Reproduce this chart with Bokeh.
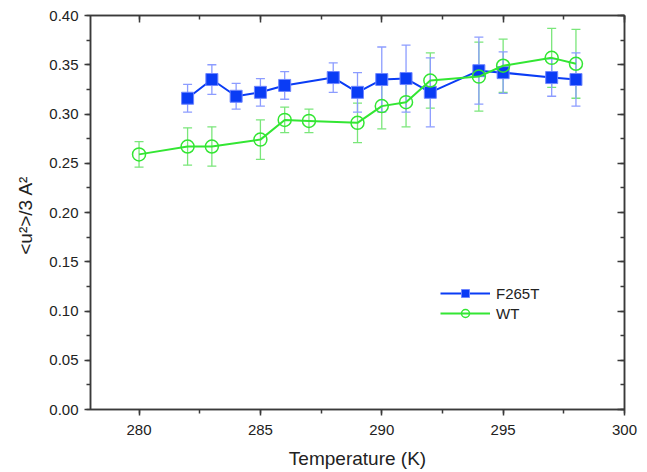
from bokeh.plotting import figure
from bokeh.models import (ColumnDataSource, Whisker, TeeHead, LinearAxis, Range1d,
                          SingleIntervalTicker, Legend, LegendItem, CustomJSTickFormatter,
                          NumeralTickFormatter)
from bokeh.embed import file_html
from bokeh.resources import INLINE

# ---- data ----
t_f265t = [282, 283, 284, 285, 286, 288, 289, 290, 291, 292, 294, 295, 297, 298]
u_f265t = [0.316, 0.335, 0.318, 0.322, 0.329, 0.337, 0.322, 0.335, 0.336, 0.322, 0.344, 0.342, 0.337, 0.335]
e_f265t = [0.014, 0.015, 0.013, 0.014, 0.014, 0.015, 0.020, 0.033, 0.034, 0.035, 0.034, 0.021, 0.019, 0.027]

t_wt = [280, 282, 283, 285, 286, 287, 289, 290, 291, 292, 294, 295, 297, 298]
u_wt = [0.259, 0.267, 0.267, 0.274, 0.294, 0.293, 0.291, 0.308, 0.312, 0.334, 0.338, 0.349, 0.357, 0.351]
e_wt = [0.013, 0.019, 0.020, 0.020, 0.013, 0.012, 0.020, 0.023, 0.025, 0.028, 0.035, 0.027, 0.030, 0.035]

x_label = "Temperature (K)"
y_label = "<u\u00b2>/3  A\u00b2"

BLUE = "#0a3cf5"
BLUE_ERR = "#8c9cff"
GREEN = "#33e633"
GREEN_ERR = "#7ae67a"
FONT = "Liberation Sans"
AXIS_COLOR = "#3a3a3a"

def src(t, u, e):
    return ColumnDataSource(dict(x=t, y=u,
                                 lo=[a - b for a, b in zip(u, e)],
                                 hi=[a + b for a, b in zip(u, e)]))

s_b = src(t_f265t, u_f265t, e_f265t)
s_g = src(t_wt, u_wt, e_wt)

p = figure(width=647, height=472, output_backend="svg", toolbar_location=None,
           x_range=Range1d(278, 300), y_range=Range1d(0, 0.40),
           x_axis_location=None, y_axis_location=None,
           min_border_left=90, min_border_right=23, min_border_top=15, min_border_bottom=63)
p.grid.visible = False
p.outline_line_color = AXIS_COLOR
p.outline_line_width = 1.5
p.background_fill_color = "white"
p.border_fill_color = "white"

def style_axis(ax, labels=True, inward=False):
    ax.axis_line_color = AXIS_COLOR
    ax.axis_line_width = 1.5
    ax.major_tick_line_color = AXIS_COLOR
    ax.minor_tick_line_color = AXIS_COLOR
    ax.major_tick_line_width = 1.5
    ax.minor_tick_line_width = 1.5
    if inward:
        ax.major_tick_in, ax.major_tick_out = 7, 0
        ax.minor_tick_in, ax.minor_tick_out = 4, 0
    else:
        ax.major_tick_in, ax.major_tick_out = 0, 6
        ax.minor_tick_in, ax.minor_tick_out = 0, 4
    ax.major_label_text_font = FONT
    ax.major_label_text_font_size = "15px"
    ax.major_label_text_color = "#222222"
    ax.axis_label_text_font = FONT
    ax.axis_label_text_font_style = "normal"
    ax.axis_label_text_font_size = "19px"
    ax.axis_label_text_color = "#222222"
    if not labels:
        ax.formatter = CustomJSTickFormatter(code="return ''")
        ax.major_label_standoff = 0
        ax.major_label_text_font_size = "1px"

xb = LinearAxis(ticker=SingleIntervalTicker(interval=5, num_minor_ticks=2), axis_label=x_label)
style_axis(xb)
xb.major_label_standoff = 9
xb.axis_label_standoff = 10
p.add_layout(xb, "below")

yl = LinearAxis(ticker=SingleIntervalTicker(interval=0.05, num_minor_ticks=2), axis_label=y_label)
style_axis(yl)
yl.formatter = NumeralTickFormatter(format="0.00")
yl.major_label_standoff = 6
yl.axis_label_standoff = 10
p.add_layout(yl, "left")

xt = LinearAxis(ticker=SingleIntervalTicker(interval=5, num_minor_ticks=2))
style_axis(xt, labels=False, inward=True)
p.add_layout(xt, "above")

yr = LinearAxis(ticker=SingleIntervalTicker(interval=0.05, num_minor_ticks=2))
style_axis(yr, labels=False, inward=True)
p.add_layout(yr, "right")

# error bars
for s, c in ((s_g, GREEN_ERR), (s_b, BLUE_ERR)):
    w = Whisker(source=s, base="x", lower="lo", upper="hi", dimension="height",
                line_color=c, line_width=1.3,
                upper_head=TeeHead(size=9, line_color=c, line_width=1.3),
                lower_head=TeeHead(size=9, line_color=c, line_width=1.3))
    p.add_layout(w)

lb = p.line("x", "y", source=s_b, line_color=BLUE, line_width=2)
mb = p.scatter("x", "y", source=s_b, marker="square", size=12,
               fill_color=BLUE, line_color="#6f86ff", line_width=1)
lg = p.line("x", "y", source=s_g, line_color=GREEN, line_width=2)
mg = p.scatter("x", "y", source=s_g, marker="circle", size=13,
               fill_color="white", fill_alpha=0.0, line_color=GREEN, line_width=1.5)

legend = Legend(items=[LegendItem(label="F265T", renderers=[lb, mb]),
                       LegendItem(label="WT", renderers=[lg, mg])],
                location=(350, 86), border_line_color=None, background_fill_alpha=0,
                padding=0, margin=0, spacing=0, label_height=20, glyph_height=20,
                glyph_width=50, label_standoff=6,
                label_text_font=FONT, label_text_font_size="15px", label_text_color="#222222")
p.add_layout(legend)

open("out.html", "w").write(file_html(p, INLINE))
